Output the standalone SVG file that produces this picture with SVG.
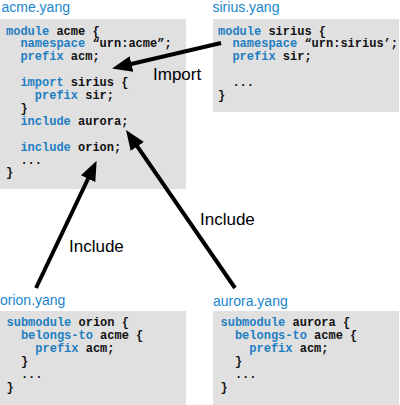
<svg xmlns="http://www.w3.org/2000/svg" width="400" height="405" viewBox="0 0 400 405">
<style>
.box{fill:#e0e0e0}
.title{font-family:"Liberation Sans",Arial,sans-serif;font-size:14px;fill:#1a86cc}
.code{font-family:"Liberation Mono","Courier New",monospace;font-size:12px;font-weight:bold;fill:#111}
.kw{fill:#1f7ec2}
.lbl{font-family:"Liberation Sans",Arial,sans-serif;font-size:17px;fill:#000}
.conn{stroke:#000;stroke-width:4;fill:none}
</style>
<defs>
<marker id="ah" markerUnits="userSpaceOnUse" markerWidth="20" markerHeight="16" viewBox="0 0 20 16" refX="8" refY="8" orient="auto">
<path d="M0,0 L20,8 L0,16 z" fill="#000"/>
</marker>
</defs>
<g id="acme">
<rect class="box" x="0" y="19" width="186" height="170"/>
<text class="title" x="1.5" y="11.5">acme.yang</text>
<text class="code" x="6" y="34.5"><tspan class="kw">module</tspan> acme {</text>
<text class="code" x="20.4" y="47.4"><tspan class="kw">namespace</tspan> “urn:acme”;</text>
<text class="code" x="20.4" y="60.3"><tspan class="kw">prefix</tspan> acm;</text>
<text class="code" x="20.4" y="86.1"><tspan class="kw">import</tspan> sirius {</text>
<text class="code" x="34.8" y="99"><tspan class="kw">prefix</tspan> sir;</text>
<text class="code" x="20.4" y="111.9">}</text>
<text class="code" x="20.4" y="124.8"><tspan class="kw">include</tspan> aurora;</text>
<text class="code" x="20.4" y="150.6"><tspan class="kw">include</tspan> orion;</text>
<text class="code" x="20.4" y="163.5">...</text>
<text class="code" x="6" y="176.4">}</text>
</g>
<g id="sirius">
<rect class="box" x="213" y="19" width="186" height="93"/>
<text class="title" x="212.5" y="11.5">sirius.yang</text>
<text class="code" x="218" y="34.5"><tspan class="kw">module</tspan> sirius {</text>
<text class="code" x="232.4" y="47.4"><tspan class="kw">namespace</tspan> “urn:sirius’;</text>
<text class="code" x="232.4" y="60.3"><tspan class="kw">prefix</tspan> sir;</text>
<text class="code" x="232.4" y="86.1">...</text>
<text class="code" x="218" y="99">}</text>
</g>
<g id="orion">
<rect class="box" x="0" y="311" width="186" height="94"/>
<text class="title" x="0" y="305">orion.yang</text>
<text class="code" x="6.5" y="326"><tspan class="kw">submodule</tspan> orion {</text>
<text class="code" x="20.9" y="339"><tspan class="kw">belongs-to</tspan> acme {</text>
<text class="code" x="35.3" y="352"><tspan class="kw">prefix</tspan> acm;</text>
<text class="code" x="20.9" y="365">}</text>
<text class="code" x="20.9" y="378">...</text>
<text class="code" x="6.5" y="391">}</text>
</g>
<g id="aurora">
<rect class="box" x="213" y="311" width="186" height="94"/>
<text class="title" x="213" y="305.5">aurora.yang</text>
<text class="code" x="220.5" y="326"><tspan class="kw">submodule</tspan> aurora {</text>
<text class="code" x="234.9" y="339"><tspan class="kw">belongs-to</tspan> acme {</text>
<text class="code" x="249.3" y="352"><tspan class="kw">prefix</tspan> acm;</text>
<text class="code" x="234.9" y="365">}</text>
<text class="code" x="234.9" y="378">...</text>
<text class="code" x="220.5" y="391">}</text>
</g>
<g id="connectors">
<line class="conn" x1="221" y1="43" x2="123.7" y2="65.8" marker-end="url(#ah)"/>
<line class="conn" x1="36" y1="288" x2="91.5" y2="171.5" marker-end="url(#ah)"/>
<line class="conn" x1="235" y1="288" x2="132.8" y2="139.9" marker-end="url(#ah)"/>
<text class="lbl" x="153" y="80">Import</text>
<text class="lbl" x="69" y="251.5">Include</text>
<text class="lbl" x="200" y="225">Include</text>
</g>
</svg>
